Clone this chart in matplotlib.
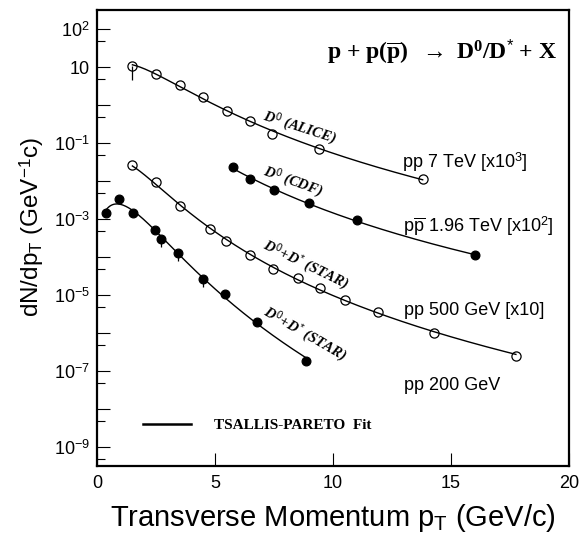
#!/usr/bin/env python3
"""D0/D* pT spectra in p+p(pbar) collisions with Tsallis-Pareto fits."""

import numpy as np
import matplotlib
matplotlib.use("Agg")
import matplotlib.pyplot as plt
from matplotlib.lines import Line2D
from matplotlib.ticker import FixedLocator, FuncFormatter

plt.rcParams["font.family"] = ["Liberation Sans", "DejaVu Sans"]
plt.rcParams["mathtext.fontset"] = "custom"
plt.rcParams["mathtext.rm"] = "Liberation Sans"
plt.rcParams["mathtext.it"] = "Liberation Serif:italic:bold"
plt.rcParams["mathtext.bf"] = "Liberation Serif:bold"

D0_MASS = 1.865  # GeV

# ALICE pp 7 TeV [x10^3], open circles
alice_pt = [1.5, 2.5, 3.5, 4.5, 5.5, 6.5, 7.4, 9.4, 13.8]
alice_y = [11.0, 6.67, 3.48, 1.68, 0.721, 0.379, 0.176, 0.0708, 0.0115]
alice_err_lo = [6.4, 0, 0, 0, 0, 0, 0, 0, 0]

# CDF ppbar 1.96 TeV [x10^2], filled circles
cdf_pt = [5.75, 6.5, 7.5, 9.0, 11.0, 16.0]
cdf_y = [0.0233, 0.0115, 0.0058, 0.00264, 9.4e-4, 1.15e-4]

# STAR pp 500 GeV [x10], open circles
star500_pt = [1.5, 2.5, 3.5, 4.8, 5.45, 6.5, 7.45, 8.5, 9.45, 10.5, 11.9, 14.3, 17.75]
star500_y = [0.0264, 0.00959, 0.00224, 5.56e-4, 2.64e-4, 1.17e-4, 4.92e-5,
             2.85e-5, 1.53e-5, 7.66e-6, 3.52e-6, 1.03e-6, 2.53e-7]

# STAR pp 200 GeV, filled circles
star200_pt = [0.37, 0.94, 1.54, 2.46, 2.70, 3.43, 4.48, 5.44, 6.79, 8.86]
star200_y = [1.47e-3, 3.48e-3, 1.47e-3, 5.14e-4, 2.98e-4, 1.27e-4, 2.73e-5,
             1.06e-5, 1.95e-6, 1.90e-7]
star200_err_lo = [0, 0, 0, 0, 1.08e-4, 4.6e-5, 1.05e-5, 0, 0, 0]


def tsallis(pt, n, T):
    """Tsallis-Pareto shape without normalisation."""
    mt = np.sqrt(pt ** 2 + D0_MASS ** 2)
    return pt * (1.0 + (mt - D0_MASS) / (n * T)) ** (-n)


def fit_tsallis(pt, y):
    """Grid search in (n, T), normalisation solved in log space."""
    pt = np.asarray(pt)
    logy = np.log(np.asarray(y))
    ns = np.linspace(2.5, 40.0, 151)[:, None, None]
    Ts = np.linspace(0.05, 2.0, 196)[None, :, None]
    mt = np.sqrt(pt ** 2 + D0_MASS ** 2)
    shape = np.log(pt) - ns * np.log1p((mt - D0_MASS) / (ns * Ts))
    resid = logy - shape
    logC = resid.mean(axis=-1)
    sse = ((resid - logC[..., None]) ** 2).sum(axis=-1)
    i, j = np.unravel_index(np.argmin(sse), sse.shape)
    return np.exp(logC[i, j]), ns[i, 0, 0], Ts[0, j, 0]


def draw_fit(ax, pt, y):
    C, n, T = fit_tsallis(pt, y)
    xs = np.linspace(min(pt), max(pt), 300)
    ax.plot(xs, C * tsallis(xs, n, T), color="k", lw=1.0, zorder=2)


fig = plt.figure(figsize=(5.84, 5.38), dpi=100)
ax = fig.add_axes([0.1661, 0.1344, 0.8082, 0.8470])

for pt, y in [(alice_pt, alice_y), (cdf_pt, cdf_y),
              (star500_pt, star500_y), (star200_pt, star200_y)]:
    draw_fit(ax, pt, y)

# error bars (only lower parts visible)
ax.errorbar(alice_pt, alice_y, yerr=[alice_err_lo, np.zeros(len(alice_pt))],
            fmt="none", ecolor="k", elinewidth=0.9, zorder=2)
ax.errorbar(star200_pt, star200_y, yerr=[star200_err_lo, np.zeros(len(star200_pt))],
            fmt="none", ecolor="k", elinewidth=0.9, zorder=2)

open_style = dict(ls="none", marker="o", ms=6.6, mfc="none", mec="k", mew=0.9, zorder=3)
fill_style = dict(ls="none", marker="o", ms=6.3, mfc="k", mec="k", mew=0.9, zorder=3)
ax.plot(alice_pt, alice_y, **open_style)
ax.plot(star500_pt, star500_y, **open_style)
ax.plot(cdf_pt, cdf_y, **fill_style)
ax.plot(star200_pt, star200_y, **fill_style)

ax.set_yscale("log")
ax.set_xlim(0, 20)
ax.set_ylim(10 ** -9.49, 10 ** 2.51)

# ticks
label_exps = {2, 1, -1, -3, -5, -7, -9}


def ytick_fmt(v, _pos):
    k = int(round(np.log10(v)))
    if k not in label_exps:
        return ""
    if k == 1:
        return "10"
    return r"$10^{%d}$" % k


ax.yaxis.set_major_locator(FixedLocator([10.0 ** k for k in range(-9, 3)]))
ax.yaxis.set_major_formatter(FuncFormatter(ytick_fmt))
ax.yaxis.set_minor_locator(FixedLocator([5 * 10.0 ** k for k in range(-10, 3)]))
ax.yaxis.set_minor_formatter(FuncFormatter(lambda v, p: ""))
ax.set_xticks([0, 5, 10, 15, 20])
ax.tick_params(axis="both", which="major", direction="in", length=9.5, width=0.8,
               labelsize=13, top=False, right=False)
ax.tick_params(axis="y", which="minor", direction="in", length=5.5, width=0.8,
               right=False)
ax.tick_params(axis="x", which="major", pad=7)
ax.tick_params(axis="y", which="major", pad=5)
for s in ax.spines.values():
    s.set_linewidth(1.6)

ax.set_xlabel(r"Transverse Momentum p$_\mathrm{T}$ (GeV/c)", fontsize=21, labelpad=7)
ax.set_ylabel(r"dN/dp$_\mathrm{T}$ (GeV$^{\mathrm{-1}}$c)", fontsize=17.5)
ax.yaxis.set_label_coords(-0.108, 0.524)

# title reaction
ax.text(0.974, 0.892, r"p + p($\overline{\mathbf{p}}$)  $\rightarrow$ D$^{\mathbf{0}}$/D$^{*}$ + X",
        transform=ax.transAxes, ha="right", va="baseline", fontsize=17,
        family=["Liberation Serif", "DejaVu Serif"], weight="bold")

# energy labels
ax.text(12.91, 0.0228, r"pp 7 TeV [x10$^{3}$]", fontsize=13, va="baseline")
ax.text(12.95, 4.72e-4, r"p$\overline{\mathrm{p}}$ 1.96 TeV [x10$^{2}$]", fontsize=13,
        va="baseline")
ax.text(13.0, 3.03e-6, "pp 500 GeV [x10]", fontsize=13, va="baseline")
ax.text(13.0, 3.22e-8, "pp 200 GeV", fontsize=13, va="baseline")

# curve labels
curve_font = dict(family="Liberation Serif", weight="bold", style="italic",
                  fontsize=10.5, ha="center", va="center", rotation_mode="anchor")
ax.text(8.56, 0.253, r"$D^{\mathit{0}}$ (ALICE)", rotation=-18, **curve_font)
ax.text(8.29, 9.75e-3, r"$D^{\mathit{0}}$ (CDF)", rotation=-20, **curve_font)
ax.text(8.81, 6.27e-5, r"$D^{\mathit{0}}$+$D^{*}$ (STAR)", rotation=-26, **curve_font)
ax.text(8.77, 9.0e-7, r"$D^{\mathit{0}}$+$D^{*}$ (STAR)", rotation=-30, **curve_font)

fit_handle = Line2D([], [], color="k", lw=1.8)
ax.legend([fit_handle], ["TSALLIS-PARETO  Fit"], loc="center left",
          bbox_to_anchor=(0.098, 0.089), frameon=False, borderpad=0,
          borderaxespad=0, handlelength=3.15, handletextpad=1.5,
          prop=dict(family="Liberation Serif", weight="bold", size=11))

fig.savefig("out.png", dpi=100)
